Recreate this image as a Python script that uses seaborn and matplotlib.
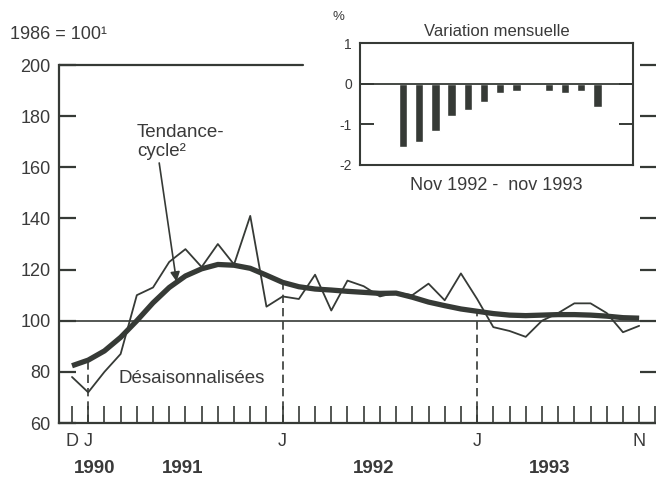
import numpy as np
import pandas as pd
import matplotlib.pyplot as plt
import seaborn as sns

# months from Dec 1990 (0) to Nov 1993 (35)
months = list(range(36))

# seasonally adjusted index, 1986 = 100
desaison = [78, 72, 80, 87, 110, 113, 123, 128, 121, 130, 122, 141,
            105.5, 109.5, 108.5, 118, 104, 115.7, 113.5, 109.5, 111, 110,
            114.5, 108, 118.5, 108.5, 97.5, 96, 93.7, 100, 103, 106.8,
            106.8, 103, 95.5, 98]

# trend-cycle
tendance = [82.4, 84.6, 88.2, 93.5, 100, 107, 113, 117.5, 120.3, 122,
            121.7, 120.5, 117.8, 115, 113.3, 112.4, 112, 111.5, 111.1,
            110.7, 110.8, 109.2, 107.3, 105.9, 104.6, 103.7, 102.8, 102.2,
            102, 102.2, 102.4, 102.4, 102.2, 101.8, 101.2, 101]

# monthly change, Nov 1992 - Nov 1993 (%)
variation = [-1.57, -1.44, -1.16, -0.79, -0.66, -0.45, -0.23, -0.18,
             0.0, -0.17, -0.23, -0.18, -0.58]

tick_labels = {0: "D", 1: "J", 13: "J", 25: "J", 35: "N"}
year_labels = ["1990", "1991", "1992", "1993"]
year_pos = [1.4, 6.8, 18.6, 29.5]
dashed_months = [1, 13, 25]

ink = "#363a36"
txt = "#3a3a3a"

sns.set_theme(style="ticks")
plt.rcParams['font.family'] = ['Liberation Sans', 'DejaVu Sans']
plt.rcParams['text.color'] = txt
plt.rcParams['xtick.color'] = ink
plt.rcParams['ytick.color'] = ink
plt.rcParams['xtick.labelcolor'] = txt
plt.rcParams['ytick.labelcolor'] = txt

df = pd.DataFrame({"mois": months, "desaison": desaison, "tendance": tendance})

fig = plt.figure(figsize=(6.56, 4.78), dpi=100)
fig.patch.set_facecolor("white")

ax = fig.add_axes([0.090, 0.115, 0.9115, 0.749])
ax.set_facecolor("white")

sns.lineplot(data=df, x="mois", y="desaison", ax=ax, color=ink, lw=1.3)
sns.lineplot(data=df, x="mois", y="tendance", ax=ax, color=ink, lw=3.8,
             solid_capstyle="butt")

ax.axhline(100, color=ink, lw=1.2, zorder=1)
ax.axhline(200, xmax=0.408, color=ink, lw=1.6, clip_on=False)
for m in dashed_months:
    ax.vlines(m, 60, tendance[m], colors=ink, lw=1.2, linestyles=(0, (5, 3)))

ax.set_xlim(-0.8, 36.1)
ax.set_ylim(60, 200)
ax.set_xlabel("")
ax.set_ylabel("")

ax.set_yticks(range(60, 201, 20))
ax.set_xticks(range(37))
ax.set_xticklabels([tick_labels.get(i, "") for i in range(37)])

ax.tick_params(axis="y", direction="in", length=12, width=1.6, left=True,
               right=True, labelright=False, labelsize=13, pad=6)
ax.tick_params(axis="x", direction="in", length=12, width=1.2,
               labelsize=13, pad=7)

for s in ["top", "right"]:
    ax.spines[s].set_visible(False)
for s in ["left", "bottom"]:
    ax.spines[s].set_color(ink)
    ax.spines[s].set_linewidth(1.6)

for lab, xp in zip(year_labels, year_pos):
    ax.text(xp, -0.128, lab, transform=ax.get_xaxis_transform(),
            ha="center", va="center", fontsize=13.5, fontweight="bold")

ax.annotate("Tendance-\ncycle²", xy=(6.45, 115.3), xytext=(4.0, 170),
            ha="left", va="center", fontsize=13.5, linespacing=1.15,
            arrowprops=dict(arrowstyle="-|>", color=ink, lw=1.2,
                            shrinkA=0, shrinkB=0, mutation_scale=14,
                            relpos=(0.25, 0.0)))
ax.text(2.84, 77.5, "Désaisonnalisées", ha="left", va="center", fontsize=13.5)

fig.text(0.015, 0.927, "1986 = 100¹", ha="left", va="center", fontsize=13)

# inset: monthly variation
ins = fig.add_axes([0.549, 0.655, 0.416, 0.255])
ins.set_facecolor("white")
sns.barplot(x=list(range(len(variation))), y=variation, ax=ins, color=ink,
            width=0.52, errorbar=None, saturation=1)
ins.axhline(0, color=ink, lw=1.3)
ins.set_xlim(-2.65, 14.2)
ins.set_ylim(-2, 1)
ins.set_yticks([1, 0, -1, -2])
ins.set_yticklabels(["1", "0", "-1", "-2"])
ins.set_xticks([])
ins.tick_params(axis="y", direction="in", length=10, width=1.4, left=True,
                right=True, labelsize=10, pad=6)
for s in ins.spines.values():
    s.set_visible(True)
    s.set_color(ink)
    s.set_linewidth(1.5)
ins.set_title("Variation mensuelle", fontsize=12, pad=5, color=txt)
ins.set_xlabel("Nov 1992 -  nov 1993", fontsize=13, labelpad=9, color=txt)
ins.set_ylabel("")
ins.text(-0.08, 1.21, "%", transform=ins.transAxes, ha="center",
         va="center", fontsize=9.5)

fig.savefig("out.png", dpi=100)
